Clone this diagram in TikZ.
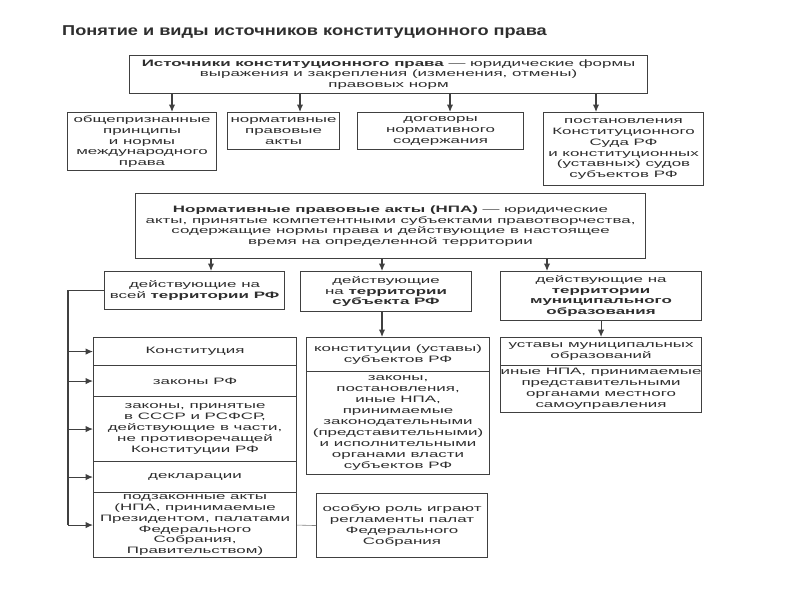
\documentclass[tikz,border=0pt]{standalone}
\usepackage{fontspec}
\setmainfont{Liberation Sans}[FakeStretch=1.82]
\newfontfamily\titelfont{Liberation Sans}[FakeStretch=1.27]
\usetikzlibrary{arrows.meta}
\definecolor{linie}{rgb}{0.25,0.25,0.25}
\definecolor{schrift}{rgb}{0.18,0.18,0.18}

\begin{document}
\begin{tikzpicture}[x=1pt, y=-1pt, % 1 Einheit = 1 Pixel, y nach unten
  kasten/.style={draw=linie, line width=1.1pt, text=schrift, align=center, inner sep=0pt,
    anchor=north west, font=\fontsize{9.3}{10.9}\selectfont},
  pfeil/.style={draw=linie, line width=1.1pt, -{Latex[length=7.5pt,width=6.5pt]}}]

% Rahmen
\fill[white] (0,0) rectangle (800,600);
\useasboundingbox (0,0) rectangle (800,600);

% Titel
\node[anchor=base west, inner sep=0pt, text=schrift, font=\titelfont\fontsize{14.3}{16}\selectfont\bfseries] (titel) at (62,35) {Понятие и виды источников конституционного права};

% Oberer Kasten und erste Reihe
\node[kasten, minimum width=518pt, minimum height=38pt] (quelle) at (129,55) {\textbf{Источники конституционного права} — юридические формы\\выражения и закрепления (изменения, отмены)\\правовых норм};
\node[kasten, minimum width=149pt, minimum height=58pt] (b1) at (67,112) {общепризнанные\\принципы\\и нормы\\международного\\права};
\node[kasten, minimum width=112pt, minimum height=37pt] (b2) at (227,112) {нормативные\\правовые\\акты};
\node[kasten, minimum width=166pt, minimum height=37pt] (b3) at (357,112) {договоры\\нормативного\\содержания};
\node[kasten, minimum width=160pt, minimum height=73pt] (b4) at (543,112) {постановления\\Конституционного\\Суда РФ\\и конституционных\\(уставных) судов\\субъектов РФ};

\foreach \n/\x in {b1/172, b2/300, b3/450, b4/596} {
  \coordinate (p\n) at (\x,0);
  \draw[pfeil] (p\n |- quelle.south) -- (p\n |- \n.north); % Pfeile nach unten
}

% Kasten NPA und zweite Reihe
\node[kasten, minimum width=510pt, minimum height=65pt] (npa) at (135,193) {\textbf{Нормативные правовые акты (НПА)} —\enspace юридические\\акты, принятые компетентными субъектами правотворчества,\\содержащие нормы права и действующие в настоящее\\время на определенной территории};
\node[kasten, minimum width=180pt, minimum height=38pt] (c1) at (104,271) {действующие на\\всей \textbf{территории РФ}};
\node[kasten, minimum width=171pt, minimum height=40pt] (c2) at (300,271) {действующие\\на \textbf{территории}\\\textbf{субъекта РФ}};
\node[kasten, minimum width=201pt, minimum height=49pt] (c3) at (500,271) {действующие на\\\textbf{территории}\\\textbf{муниципального}\\\textbf{образования}};

\foreach \n/\x in {c1/211, c2/382, c3/547} {
  \coordinate (p\n) at (\x,0);
  \draw[pfeil] (p\n |- npa.south) -- (p\n |- \n.north);
}

% Spalte: ganze Russische Foederation
\node[kasten, minimum width=203pt, minimum height=28pt] (d1) at (93,337) {Конституция};
\node[kasten, minimum width=203pt, minimum height=31pt] (d2) at (93,365) {законы РФ};
\node[kasten, minimum width=203pt, minimum height=65pt] (d3) at (93,396) {законы, принятые\\в СССР и РСФСР,\\действующие в части,\\не противоречащей\\Конституции РФ};
\node[kasten, minimum width=203pt, minimum height=31pt] (d4) at (93,461) {декларации};
\node[kasten, minimum width=203pt, minimum height=65pt] (d5) at (93,492) {подзаконные акты\\(НПА, принимаемые\\Президентом, палатами\\Федерального\\Собрания,\\Правительством)};

\coordinate (stamm) at (68,0);
\draw[linie, line width=1.1pt] (c1.west) -- (stamm |- c1.west) -- (stamm |- d5.west);
\foreach \n in {d1,d2,d3,d4,d5}
  \draw[pfeil] (stamm |- \n.west) -- (\n.west);

% Spalte: Subjekt
\node[kasten, minimum width=183pt, minimum height=34pt] (e1) at (306,337) {конституции (уставы)\\субъектов РФ};
\node[kasten, minimum width=183pt, minimum height=103pt] (e2) at (306,371) {законы,\\постановления,\\иные НПА,\\принимаемые\\законодательными\\(представительными)\\и исполнительными\\органами власти\\субъектов РФ};
\draw[pfeil] (c2.south -| pc2) -- (e1.north -| pc2);

% Spalte: Gemeinde
\node[kasten, minimum width=201pt, minimum height=28pt] (f1) at (500,337) {уставы муниципальных\\образований};
\node[kasten, minimum width=201pt, minimum height=47pt] (f2) at (500,365) {иные НПА, принимаемые\\представительными\\органами местного\\самоуправления};
\draw[pfeil] (c3.south) -- (f1.north -| c3.south);

% Reglemente
\node[kasten, minimum width=171pt, minimum height=64pt] (g) at (316,493) {особую роль играют\\регламенты палат\\Федерального\\Собрания};
\draw[gray, line width=0.6pt] (d5.east) -- (g.west);

\end{tikzpicture}
\end{document}
